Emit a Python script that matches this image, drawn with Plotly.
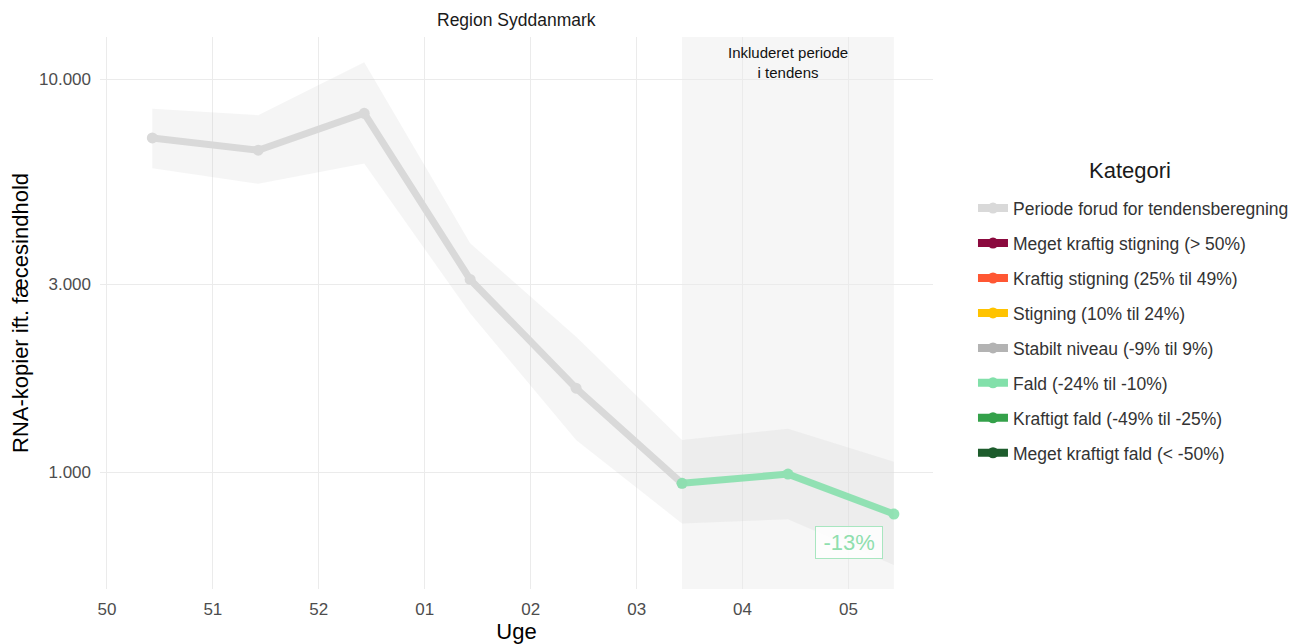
import numpy as np
import plotly.graph_objects as go

# ugestart (mandag) og ugenumre til x-aksen
uge_start = ["2023-12-11", "2023-12-18", "2023-12-25", "2024-01-01",
             "2024-01-08", "2024-01-15", "2024-01-22", "2024-01-29"]
uge_labels = ["50", "51", "52", "01", "02", "03", "04", "05"]

# målinger (torsdag i hver uge)
datoer = ["2023-12-14", "2023-12-21", "2023-12-28", "2024-01-04",
          "2024-01-11", "2024-01-18", "2024-01-25", "2024-02-01"]
niveau = [7080, 6590, 8180, 3090, 1634, 936, 988, 782]
ci_lav = [5930, 5410, 6100, 2534, 1206, 740, 758, 580]
ci_hoej = [8400, 8090, 11030, 3820, 2210, 1206, 1289, 1062]
kategori = ["Periode forud for tendensberegning"] * 5 + ["Fald (-24% til -10%)"] * 3

tendens_start = "2024-01-18"
tendens_slut = "2024-02-01"
tendens_pct = "-13%"

kategorier = [
    "Periode forud for tendensberegning",
    "Meget kraftig stigning (> 50%)",
    "Kraftig stigning (25% til 49%)",
    "Stigning (10% til 24%)",
    "Stabilt niveau (-9% til 9%)",
    "Fald (-24% til -10%)",
    "Kraftigt fald (-49% til -25%)",
    "Meget kraftigt fald (< -50%)",
]
farver = ["#D9D9D9", "#8B0A3E", "#FF5733", "#FFC300",
          "#B3B3B3", "#82E0AA", "#34A14A", "#1D5C2C"]

FONT = "Liberation Sans, Arial, sans-serif"

fig = go.Figure()

# konfidensbånd
fig.add_trace(go.Scatter(x=datoer, y=ci_hoej, mode="lines", line=dict(width=0),
                         showlegend=False, hoverinfo="skip"))
fig.add_trace(go.Scatter(x=datoer, y=ci_lav, mode="lines", line=dict(width=0),
                         fill="tonexty", fillcolor="rgba(190,190,190,0.16)",
                         showlegend=False, hoverinfo="skip"))

# linjer pr. kategori; periode-linjen går til første punkt i tendensperioden
for navn, farve in zip(kategorier, farver):
    idx = [i for i, k in enumerate(kategori) if k == navn]
    if not idx:
        continue
    if navn == kategorier[0]:
        idx = idx + [idx[-1] + 1]
    fig.add_trace(go.Scatter(
        x=[datoer[i] for i in idx], y=[niveau[i] for i in idx],
        mode="lines+markers", name=navn, showlegend=False,
        line=dict(color=farve, width=7),
        marker=dict(color=farve, size=11),
        opacity=0.85 if navn != kategorier[0] else 1,
    ))

# legende med alle kategorier
for navn, farve in zip(kategorier, farver):
    fig.add_trace(go.Scatter(
        x=[None], y=[None], mode="lines+markers", name=navn, legendgroup=navn,
        line=dict(color=farve, width=8), marker=dict(color=farve, size=11),
    ))

fig.add_shape(type="rect", xref="x", yref="paper", x0=tendens_start, x1=tendens_slut,
              y0=0, y1=1, fillcolor="#F6F6F6", line=dict(width=0), layer="below")

fig.add_annotation(x="2024-01-25", y=1, xref="x", yref="paper", yanchor="top", yshift=-5,
                   text="Inkluderet periode<br>i tendens", showarrow=False,
                   font=dict(family=FONT, size=15, color="#111111"))

fig.add_annotation(x=uge_start[-1], y=np.log10(662), xref="x", yref="y",
                   text="\u2009" + tendens_pct + "\u2009", showarrow=False,
                   font=dict(family=FONT, size=22, color="#8FDFAE"),
                   bgcolor="rgba(255,255,255,0.8)", bordercolor="#A8E6C0",
                   borderwidth=1, borderpad=3)

fig.add_annotation(x=0.5, y=1, xref="paper", yref="paper", yanchor="bottom", yshift=5,
                   text="Region Syddanmark", showarrow=False,
                   font=dict(family=FONT, size=17.5, color="#1a1a1a"))

# legendetitel som annotation for at styre afstanden til punkterne
fig.add_annotation(x=1.2365, y=0.759, xref="paper", yref="paper",
                   xanchor="center", yanchor="middle",
                   text="Kategori", showarrow=False,
                   font=dict(family=FONT, size=22, color="#1a1a1a"))

fig.update_xaxes(
    range=["2023-12-10 13:00", "2024-02-03 14:00"],
    tickvals=uge_start, ticktext=uge_labels,
    showgrid=True, gridcolor="#EBEBEB", gridwidth=1, zeroline=False,
    showline=False, ticks="", ticklabelstandoff=8, automargin=False,
    tickfont=dict(family=FONT, size=17, color="#4D4D4D"),
    title=dict(text="Uge", font=dict(family=FONT, size=22, color="#000000"), standoff=2),
)
fig.update_yaxes(
    type="log", range=[np.log10(504), np.log10(12790)],
    tickvals=[1000, 3000, 10000], ticktext=["1.000", "3.000", "10.000"],
    showgrid=True, gridcolor="#EBEBEB", gridwidth=1, zeroline=False,
    showline=False, ticks="", ticklabelstandoff=8, automargin=False,
    tickfont=dict(family=FONT, size=17, color="#4D4D4D"),
    title=dict(text="RNA-kopier ift. fæcesindhold", font=dict(family=FONT, size=22, color="#000000"),
               standoff=4),
)

fig.update_layout(
    width=1310, height=644,
    margin=dict(l=92, r=385, t=29, b=63),
    plot_bgcolor="white", paper_bgcolor="white",
    font=dict(family=FONT),
    legend=dict(
        x=1.048, y=0.7224, xanchor="left", yanchor="top",
        font=dict(family=FONT, size=17.5, color="#333333"),
        tracegroupgap=9.2, itemwidth=30,
    ),
)

fig.write_html("out.html")
